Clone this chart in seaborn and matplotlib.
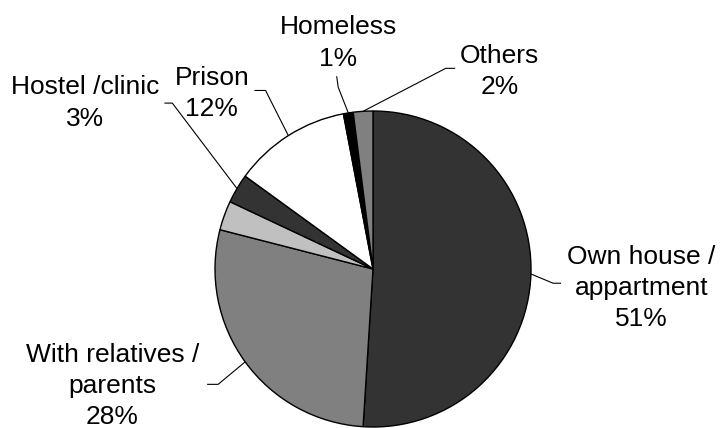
import numpy as np
import matplotlib
matplotlib.use("Agg")
import matplotlib.pyplot as plt
import seaborn as sns

# Place of residence, share of respondents (%), clockwise from 12 o'clock
categories = ["Own house /\nappartment", "With relatives /\nparents", "",
              "Hostel /clinic", "Prison", "Homeless", "Others"]
shares = [51, 28, 3, 3, 12, 1, 2]
slice_colors = ["#333333", "#808080", "#C0C0C0", "#333333", "#FFFFFF", "#000000", "#808080"]

# Label text centres and leader-line elbows/ends, in pie-radius units
label_pos = [(1.70, -0.12), (-1.65, -0.74), (-1.82, 1.05), (-1.02, 1.11), (-0.22, 1.43), (0.80, 1.25)]
elbow_pos = [(1.14, -0.09), (-0.98, -0.73), (-1.27, 1.05), (-0.68, 1.13), (-0.22, 1.15), (0.46, 1.27)]
end_pos = [(1.19, -0.09), (-1.05, -0.73), (-1.32, 1.05), (-0.75, 1.13), (-0.23, 1.22), (0.52, 1.27)]

sns.set_theme(style="white")
plt.rcParams["font.family"] = ["Liberation Sans", "DejaVu Sans"]

fig = plt.figure(figsize=(7.2, 4.28), dpi=100)
ax = fig.add_axes([0, 0, 1, 1])

wedges, _ = ax.pie(shares, colors=slice_colors, startangle=90, counterclock=False,
                   radius=1.0, center=(0, 0),
                   wedgeprops=dict(edgecolor="black", linewidth=1.0))

scale = 158.0
ax.set_xlim(-373 / scale, (720 - 373) / scale)
ax.set_ylim(-(428 - 269) / scale, 269 / scale)
ax.set_aspect("auto")
ax.axis("off")

labelled = [i for i, c in enumerate(categories) if c]
for k, i in enumerate(labelled):
    w = wedges[i]
    mid = np.deg2rad((w.theta1 + w.theta2) / 2)
    edge = (np.cos(mid), np.sin(mid))
    ex, ey = elbow_pos[k]
    tx, ty = end_pos[k]
    ax.plot([edge[0], ex, tx], [edge[1], ey, ty], color="black", lw=0.8,
            solid_capstyle="butt")
    lx, ly = label_pos[k]
    ax.text(lx, ly, f"{categories[i]}\n{shares[i]}%", ha="center", va="center",
            multialignment="center", fontsize=19, linespacing=1.38, color="black")

fig.savefig("out.png", dpi=100)
